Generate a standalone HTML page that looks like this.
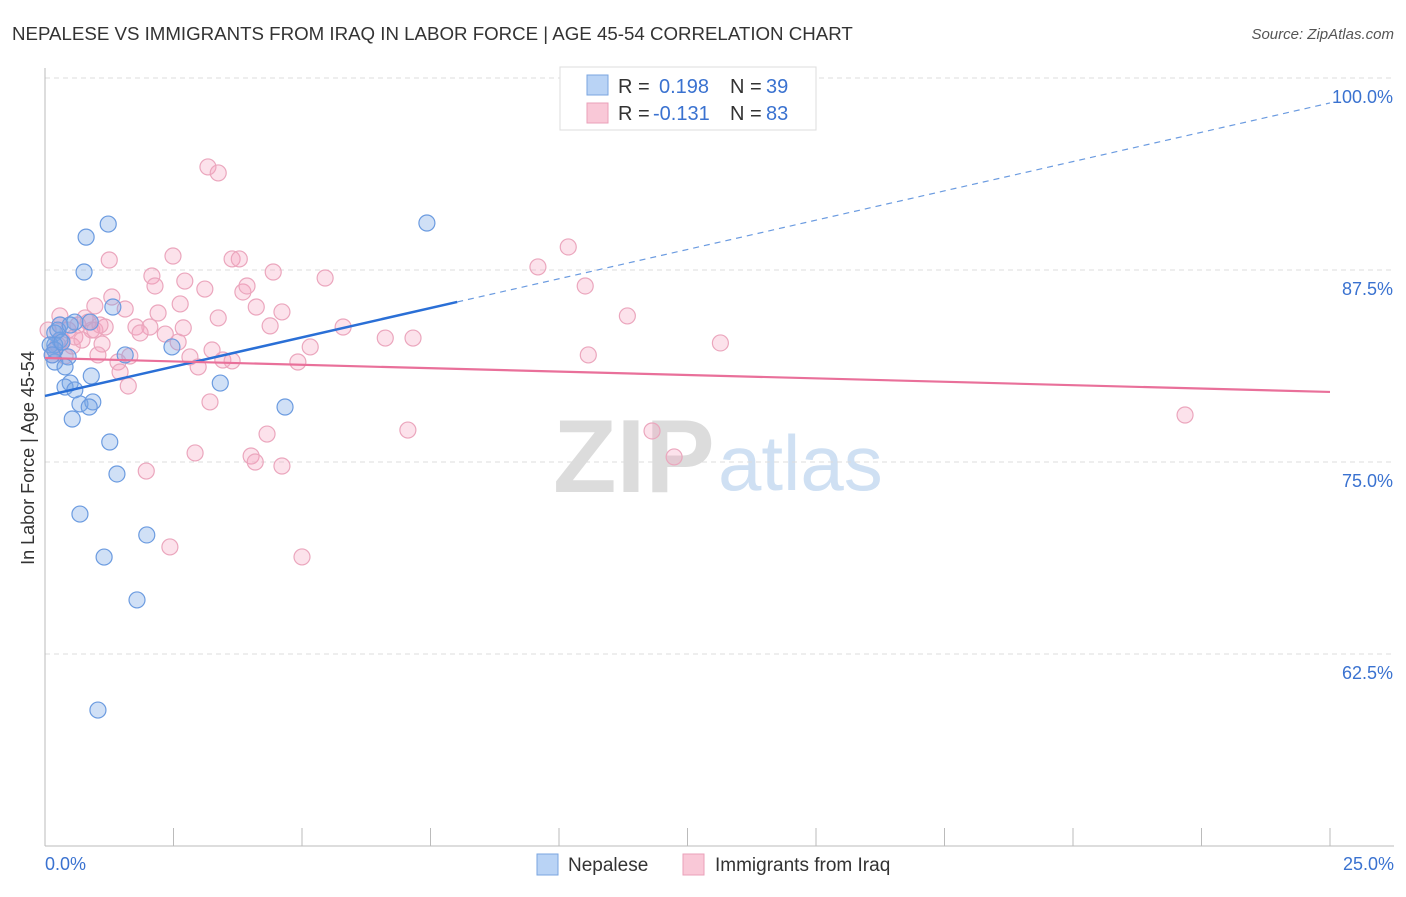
<!DOCTYPE html>
<html><head><meta charset="utf-8"><style>
body{margin:0;background:#fff;font-family:"Liberation Sans",sans-serif;}
svg text{font-family:"Liberation Sans",sans-serif;}
</style></head><body>
<svg id="chart" width="1406" height="892" xmlns="http://www.w3.org/2000/svg">
<text x="12" y="40" font-size="18.7" fill="#333">NEPALESE VS IMMIGRANTS FROM IRAQ IN LABOR FORCE | AGE 45-54 CORRELATION CHART</text>
<text x="1394" y="39" font-size="15" fill="#555" font-style="italic" text-anchor="end">Source: ZipAtlas.com</text>
<g>
<text x="553" y="492" font-size="104" font-family="Liberation Serif" fill="#dcdcdc" font-weight="bold">ZIP</text>
<text x="718" y="490" font-size="78" fill="#cfe0f3">atlas</text>
</g>
<g id="grid"></g>
<g id="axes"></g>
<g id="marks"></g>
<text transform="translate(34,458) rotate(-90)" font-size="18" fill="#333" text-anchor="middle">In Labor Force | Age 45-54</text>
<g>
<rect x="560" y="67" width="256" height="63" fill="#fff" stroke="#ddd"/>
<rect x="587" y="75" width="21" height="20" fill="#b9d3f5" stroke="#7aa6e0"/>
<rect x="587" y="103" width="21" height="20" fill="#f9c8d7" stroke="#eaa0ba"/>
<text x="618" y="93" font-size="20" fill="#333">R = </text><text x="659" y="93" font-size="20" fill="#3a72d0">0.198</text>
<text x="730" y="93" font-size="20" fill="#333">N = </text><text x="766" y="93" font-size="20" fill="#3a72d0">39</text>
<text x="618" y="120" font-size="20" fill="#333">R = </text><text x="653" y="120" font-size="20" fill="#3a72d0">-0.131</text>
<text x="730" y="120" font-size="20" fill="#333">N = </text><text x="766" y="120" font-size="20" fill="#3a72d0">83</text>
</g>
<g>
<rect x="537" y="854" width="21" height="21" fill="#b9d3f5" stroke="#7aa6e0"/>
<text x="568" y="871" font-size="19" fill="#333">Nepalese</text>
<rect x="683" y="854" width="21" height="21" fill="#f9c8d7" stroke="#eaa0ba"/>
<text x="715" y="871" font-size="19" fill="#333">Immigrants from Iraq</text>
</g>
</svg>
<script>
const yTicks=[100,87.5,75,62.5];
const yTickLabels=["100.0%","87.5%","75.0%","62.5%"];
const xTicks=[0,2.5,5,7.5,10,12.5,15,17.5,20,22.5,25];
const blueX=[1.23,0.80,0.76,1.32,0.29,0.58,0.88,0.19,0.29,0.19,0.45,0.19,1.56,2.47,0.39,0.90,0.49,0.39,0.58,3.41,0.68,0.93,0.86,4.67,0.53,1.26,1.40,0.68,1.15,1.98,1.79,1.03,7.43,0.10,0.19,0.25,0.33,0.49,0.14];
const blueY=[90.49,89.64,87.37,85.09,83.92,84.11,84.11,83.40,82.94,82.62,81.84,81.51,81.97,82.49,81.19,80.60,80.14,79.88,79.69,80.14,78.78,78.91,78.58,78.58,77.80,76.30,74.22,71.61,68.81,70.25,66.02,58.85,90.56,82.62,82.29,83.59,82.81,83.92,81.97];
const pinkX=[3.17,3.37,10.18,9.59,1.25,2.49,2.08,2.72,3.64,3.78,4.44,5.45,10.51,2.14,3.11,3.85,3.93,2.63,0.97,1.56,4.11,4.61,11.33,2.20,3.37,0.29,0.78,1.17,1.77,2.04,2.69,4.38,5.80,0.91,1.85,2.34,2.59,6.62,7.16,13.14,5.16,1.11,0.53,3.25,1.03,1.65,2.82,3.46,3.64,1.42,4.92,10.57,2.98,1.46,1.62,3.21,4.32,7.06,11.81,2.92,4.01,4.09,4.61,12.24,1.97,22.18,2.43,5.00,0.19,0.33,0.45,0.64,0.14,0.25,0.58,0.84,0.39,1.30,0.06,0.72,0.97,0.29,1.07];
const pinkY=[94.21,93.82,89.00,87.70,88.15,88.41,87.11,86.78,88.22,88.22,87.37,86.98,86.46,86.46,86.26,86.07,86.46,85.29,85.16,84.96,85.09,84.77,84.51,84.70,84.38,84.51,84.38,83.79,83.79,83.79,83.73,83.86,83.79,83.59,83.40,83.33,82.81,83.07,83.07,82.75,82.49,82.68,82.55,82.29,81.97,81.90,81.84,81.64,81.58,81.51,81.51,81.97,81.19,80.86,79.95,78.91,76.82,77.08,77.02,75.59,75.39,75.00,74.74,75.33,74.41,78.06,69.47,68.82,82.29,82.94,83.59,83.92,81.97,82.62,83.14,84.11,81.90,85.74,83.59,82.94,83.59,83.92,83.92];
const blueTrend=[79.30,0.763];
const blueSolidEnd=8.02;
const pinkTrend=[81.77,-0.0884];

const NS="http://www.w3.org/2000/svg";
const X=v=>45+v/25*1285;
const Y=v=>78+(100-v)/12.5*192;
function mk(tag,attrs,parent){const e=document.createElementNS(NS,tag);for(const k in attrs)e.setAttribute(k,attrs[k]);parent.appendChild(e);return e;}
const grid=document.getElementById('grid'),axes=document.getElementById('axes'),marks=document.getElementById('marks');
yTicks.forEach((t,i)=>{
  const l=mk('line',{x1:45,x2:1394,y1:Y(t),y2:Y(t),stroke:'#ddd','stroke-dasharray':'5,4'},grid);
  
  
  const tx=mk('text',{x:1393,y:Y(t)+25,'font-size':18,fill:'#3a72d0','text-anchor':'end'},axes);
  tx.textContent=yTickLabels[i];
  
  
});
const ax=mk('line',{x1:45,x2:1394,y1:846,y2:846,stroke:'#bbb'},axes);


const ay=mk('line',{x1:45,x2:45,y1:68,y2:846,stroke:'#bbb'},axes);


xTicks.forEach(t=>{
  const l=mk('line',{x1:X(t),x2:X(t),y1:828,y2:846,stroke:'#bbb'},axes);
  
  
});
const xl0=mk('text',{x:45,y:870,'font-size':18,fill:'#3a72d0'},axes);xl0.textContent='0.0%';


const xl1=mk('text',{x:1394,y:870,'font-size':18,fill:'#3a72d0','text-anchor':'end'},axes);xl1.textContent='25.0%';


pinkX.forEach((v,i)=>{
  const c=mk('circle',{cx:X(v),cy:Y(pinkY[i]),r:8,fill:'rgba(244,160,190,0.3)',stroke:'#eba6bd','stroke-width':1.2},marks);
  
  
});
blueX.forEach((v,i)=>{
  const c=mk('circle',{cx:X(v),cy:Y(blueY[i]),r:8,fill:'rgba(120,165,230,0.35)',stroke:'#6b9be0','stroke-width':1.2},marks);
  
  
});
const bt=x=>blueTrend[0]+blueTrend[1]*x, pt=x=>pinkTrend[0]+pinkTrend[1]*x;
const l1=mk('line',{x1:X(0),y1:Y(bt(0)),x2:X(blueSolidEnd),y2:Y(bt(blueSolidEnd)),stroke:'#2a6fd6','stroke-width':2.5},marks);


const l2=mk('line',{x1:X(blueSolidEnd),y1:Y(bt(blueSolidEnd)),x2:X(25),y2:Y(bt(25)),stroke:'#6b9be0','stroke-width':1.2,'stroke-dasharray':'6,5'},marks);


const l3=mk('line',{x1:X(0),y1:Y(pt(0)),x2:X(25),y2:Y(pt(25)),stroke:'#e9709a','stroke-width':2.2},marks);


</script>
</body></html>
